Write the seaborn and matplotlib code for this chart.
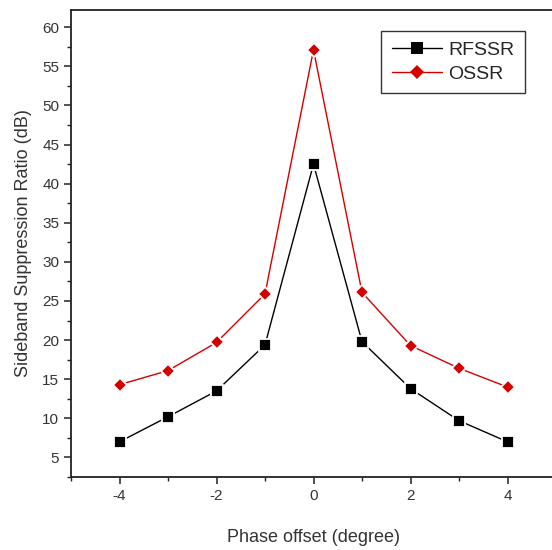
import numpy as np
import pandas as pd
import matplotlib
matplotlib.use('Agg')
import matplotlib.pyplot as plt
from matplotlib.ticker import MultipleLocator
import seaborn as sns

# ---- data ----
phase = [-4, -3, -2, -1, 0, 1, 2, 3, 4]
rfssr = [7.0, 10.2, 13.5, 19.4, 42.5, 19.8, 13.8, 9.7, 7.0]
ossr = [14.3, 16.1, 19.7, 25.9, 57.1, 26.1, 19.3, 16.4, 14.0]

df = pd.DataFrame({'phase': phase * 2,
                   'ssr': rfssr + ossr,
                   'series': ['RFSSR'] * len(phase) + ['OSSR'] * len(phase)})

sns.set_style('ticks')
plt.rcParams['font.family'] = ['Liberation Sans', 'DejaVu Sans']
plt.rcParams['axes.unicode_minus'] = False

fig = plt.figure(figsize=(5.52, 5.50), dpi=100)
ax = fig.add_axes([71 / 552, 1 - 477 / 550, (556 - 71) / 552, (477 - 10) / 550])

sns.lineplot(data=df[df.series == 'RFSSR'], x='phase', y='ssr', ax=ax,
             color='black', lw=1.0, marker='s', markersize=8,
             markeredgecolor='white', markeredgewidth=1.3, label='RFSSR')
sns.lineplot(data=df[df.series == 'OSSR'], x='phase', y='ssr', ax=ax,
             color='#d40000', lw=1.0, marker='D', markersize=7,
             markeredgecolor='white', markeredgewidth=1.3, label='OSSR')

ax.set_xlim(-5, 5)
ax.set_ylim(2.5, 62.2)
ax.xaxis.set_major_locator(MultipleLocator(2))
ax.xaxis.set_minor_locator(MultipleLocator(1))
ax.yaxis.set_major_locator(MultipleLocator(5))
ax.yaxis.set_minor_locator(MultipleLocator(2.5))
ax.tick_params(which='major', direction='out', length=5, width=1.1,
               labelsize=11, colors='#222222', labelcolor='#333333')
ax.tick_params(which='minor', direction='out', length=3, width=1.0, colors='#222222')
for sp in ax.spines.values():
    sp.set_linewidth(1.3)
    sp.set_color('#222222')
    sp.set_visible(True)

ax.set_xlabel('Phase offset (degree)', fontsize=13, color='#333333', labelpad=19)
ax.set_ylabel('Sideband Suppression Ratio (dB)', fontsize=13, color='#333333', labelpad=7)

leg = ax.legend(loc='upper right', bbox_to_anchor=((525 - 71) / 485, (467 - 21) / 467),
                fontsize=14, frameon=True, fancybox=False, handlelength=2.6,
                handletextpad=0.3, borderpad=0.55, labelspacing=0.3,
                borderaxespad=0)
leg.get_frame().set_edgecolor('black')
leg.get_frame().set_linewidth(1.0)
for h in leg.legend_handles:
    h.set_markeredgecolor('none')

fig.savefig('out.png', dpi=100)
